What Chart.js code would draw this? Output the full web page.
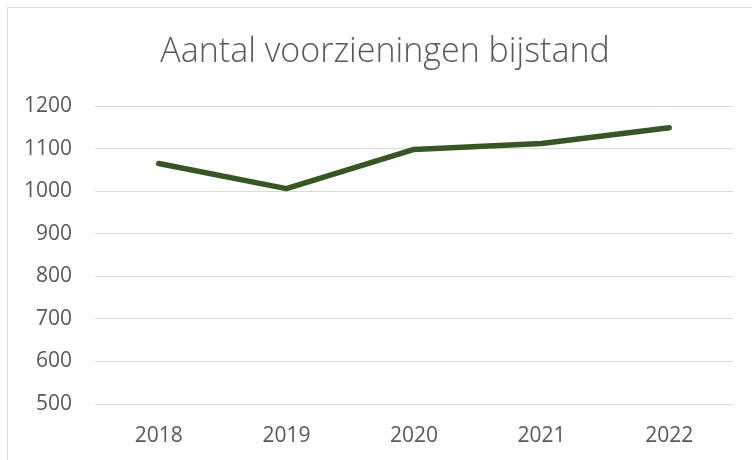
<!DOCTYPE html>
<html>
<head>
<meta charset="utf-8">
<script src="https://cdn.jsdelivr.net/npm/chart.js@4"></script>
<style>
  html, body { margin: 0; padding: 0; background: #fff; }
  #wrap { position: relative; width: 752px; height: 460px; overflow: hidden; }
  #frame { position: absolute; left: 7px; top: 7px; width: 800px; height: 500px; border: 1px solid #d9d9d9; box-sizing: border-box; }
  #chart { position: absolute; left: 0; top: 0; }
</style>
</head>
<body>
<div id="wrap">
  <div id="frame"></div>
  <canvas id="chart" width="752" height="460"></canvas>
</div>
<script>
const title = 'Aantal voorzieningen bijstand';
const years = ['2018', '2019', '2020', '2021', '2022'];
const voorzieningen = [1065, 1006, 1098, 1112, 1149];
const yMin = 500;
const yMax = 1200;
const yStep = 100;

const textColor = '#595959';
const ctx = document.getElementById('chart').getContext('2d');

// the original title is centred on the frame, not on the canvas, so draw it by hand
const titlePlugin = {
    id: 'frameTitle',
    afterDraw(chart) {
        const c = chart.ctx;
        c.save();
        c.font = '300 34px "Open Sans"';
        c.fillStyle = textColor;
        c.textAlign = 'center';
        c.textBaseline = 'middle';
        c.fillText(title, 385, 52);
        c.restore();
    }
};

let chart = new Chart(ctx, {
    type: 'line',
    data: {
        labels: years,
        datasets: [{
            label: title,
            data: voorzieningen,
            borderColor: '#375623',
            backgroundColor: '#375623',
            borderWidth: 5.5,
            borderCapStyle: 'round',
            borderJoinStyle: 'round',
            pointRadius: 0,
            tension: 0
        }]
    },
    options: {
        responsive: false,
        animation: false,
        layout: {
            padding: { left: 0, right: 19, top: 106, bottom: 0 }
        },
        plugins: {
            legend: { display: false },
            tooltip: { enabled: false },
            title: { display: false }
        },
        scales: {
            x: {
                offset: true,
                grid: { display: false, offset: true },
                border: { display: false },
                ticks: {
                    color: textColor,
                    font: { family: 'Open Sans', size: 21 },
                    padding: 11
                },
                afterFit: (scale) => { scale.height = 56; }
            },
            y: {
                min: yMin,
                max: yMax,
                border: { display: false },
                grid: { color: '#d9d9d9', lineWidth: 1, drawTicks: false },
                ticks: {
                    stepSize: yStep,
                    color: textColor,
                    font: { family: 'Open Sans', size: 21 },
                    padding: 23,
                    callback: (value) => String(value)
                },
                afterFit: (scale) => { scale.width = 95; }
            }
        }
    },
    plugins: [titlePlugin]
});
</script>
</body>
</html>
